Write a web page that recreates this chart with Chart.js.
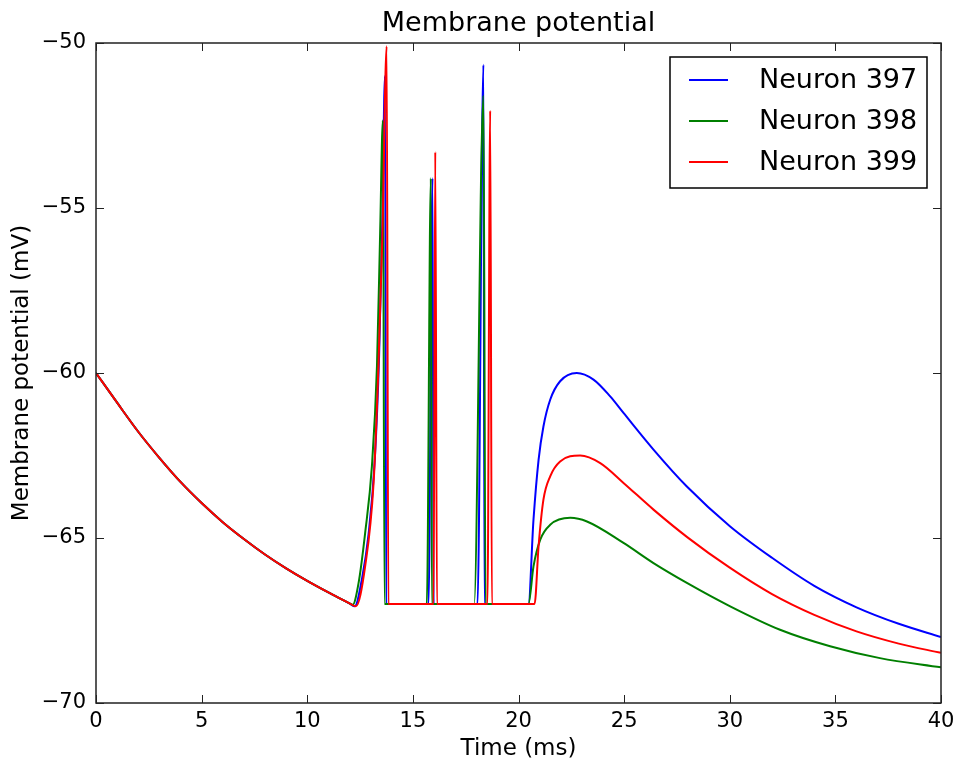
<!DOCTYPE html>
<html>
<head>
<meta charset="utf-8">
<script src="https://cdn.jsdelivr.net/npm/chart.js@4.4.1/dist/chart.umd.min.js"></script>
<style>
  html, body { margin: 0; padding: 0; background: #fff; }
  #wrap { width: 955px; height: 765px; }
</style>
</head>
<body>
<div id="wrap"><canvas id="potentialChart" width="955" height="765"></canvas></div>
<script>
// shared decay from -60 mV before any input arrives (t in ms, V in mV)
const decayTime = [0, 1, 2, 3, 4, 5, 6, 7, 8, 9, 10, 11, 12];
const decayV = [-60, -60.9, -61.78, -62.57, -63.3, -63.94, -64.52, -65.03, -65.5, -65.92, -66.3, -66.65, -66.98];

// Neuron 397 (blue)
const n397Time = [12.25, 12.6, 12.9, 13.2, 13.4, 13.55, 13.68, 13.74, 15.74, 15.93, 15.98, 18.06, 18.34, 18.39, 20.47,
  20.71, 20.95, 21.18, 21.5, 21.97, 22.76, 23.55, 24.34, 24.97, 26.39, 27.97, 30.02, 32, 34, 36, 38, 40];
const n397V = [-67.07, -66.2, -64.9, -62.6, -59.5, -55.5, -51.0, -67.0, -67.0, -54.1, -67.0, -67.0, -50.66, -67.0, -67.0,
  -64.44, -62.63, -61.62, -60.81, -60.25, -60.0, -60.2, -60.71, -61.21, -62.32, -63.44, -64.65, -65.6, -66.45, -67.1, -67.6, -68.0];

// Neuron 398 (green)
const n398Time = [12.15, 12.43, 12.74, 13.06, 13.3, 13.45, 13.58, 13.66, 15.66, 15.85, 15.9, 17.9, 18.34, 18.44, 20.47,
  20.71, 21.03, 21.5, 22.45, 23.24, 24.97, 26.39, 27.97, 30.02, 32.38, 34.75, 37.11, 40];
const n398V = [-67.02, -66.36, -64.85, -62.83, -59.8, -55.76, -52.35, -67.0, -67.0, -54.1, -67.0, -67.0, -51.6, -67.0, -67.0,
  -65.86, -65.05, -64.6, -64.39, -64.5, -65.15, -65.76, -66.36, -67.07, -67.78, -68.28, -68.64, -68.92];

// Neuron 399 (red)
const n399Time = [12.3, 12.74, 13.14, 13.37, 13.56, 13.76, 13.84, 15.98, 16.06, 16.14, 18.53, 18.66, 18.74, 20.76,
  20.95, 21.18, 21.5, 21.97, 22.92, 23.87, 24.97, 26.39, 28, 30, 32, 34, 36, 38, 40];
const n399V = [-67.07, -65.86, -63.33, -59.8, -55.76, -50.1, -67.0, -67.0, -53.3, -67.0, -67.0, -52.05, -67.0, -67.0,
  -65.25, -63.84, -63.13, -62.68, -62.5, -62.73, -63.33, -64.14, -64.98, -65.9, -66.7, -67.33, -67.83, -68.2, -68.48];

const xTicks = [0, 5, 10, 15, 20, 25, 30, 35, 40];
const yTicks = [-70, -65, -60, -55, -50];
const seriesNames = ['Neuron 397', 'Neuron 398', 'Neuron 399'];
const seriesColors = ['#0000ff', '#007f00', '#ff0000'];

const FONT = "'DejaVu Sans', sans-serif";

function toPoints(times, values) {
  const pts = decayTime.map((t, i) => ({ x: t, y: decayV[i] }));
  times.forEach((t, i) => pts.push({ x: t, y: values[i] }));
  return pts;
}

// frame, inward ticks on all four sides, title and the legend box
const framePlugin = {
  id: 'frame',
  afterDraw(chart) {
    const ctx = chart.ctx;
    const area = chart.chartArea;
    const xs = chart.scales.x;
    const ys = chart.scales.y;
    ctx.save();
    ctx.strokeStyle = '#222';
    ctx.lineWidth = 1.5;
    ctx.strokeRect(area.left, area.top, area.right - area.left, area.bottom - area.top);

    ctx.lineWidth = 1;
    ctx.beginPath();
    xTicks.forEach((v) => {
      const px = Math.round(xs.getPixelForValue(v)) + 0.5;
      ctx.moveTo(px, area.bottom);
      ctx.lineTo(px, area.bottom - 8);
      ctx.moveTo(px, area.top);
      ctx.lineTo(px, area.top + 8);
    });
    yTicks.forEach((v) => {
      const py = Math.round(ys.getPixelForValue(v)) + 0.5;
      ctx.moveTo(area.left, py);
      ctx.lineTo(area.left + 8, py);
      ctx.moveTo(area.right, py);
      ctx.lineTo(area.right - 8, py);
    });
    ctx.stroke();

    // title
    ctx.fillStyle = '#000';
    ctx.font = '27px ' + FONT;
    ctx.textAlign = 'center';
    ctx.textBaseline = 'middle';
    ctx.fillText('Membrane potential', (area.left + area.right) / 2, 24);

    // legend
    const box = { left: 670, top: 57, width: 257, height: 131 };
    ctx.fillStyle = '#fff';
    ctx.fillRect(box.left, box.top, box.width, box.height);
    ctx.strokeStyle = '#000';
    ctx.lineWidth = 1.5;
    ctx.strokeRect(box.left, box.top, box.width, box.height);
    ctx.font = '27px ' + FONT;
    ctx.textAlign = 'left';
    seriesNames.forEach((name, i) => {
      const rowY = 80 + i * 41;
      ctx.strokeStyle = seriesColors[i];
      ctx.lineWidth = 2;
      ctx.beginPath();
      ctx.moveTo(689, rowY);
      ctx.lineTo(728, rowY);
      ctx.stroke();
      ctx.fillStyle = '#000';
      ctx.fillText(name, 759, rowY + 1);
    });
    ctx.restore();
  },
};

const datasets = [
  { label: seriesNames[0], data: toPoints(n397Time, n397V), borderColor: seriesColors[0], order: 3 },
  { label: seriesNames[1], data: toPoints(n398Time, n398V), borderColor: seriesColors[1], order: 2 },
  { label: seriesNames[2], data: toPoints(n399Time, n399V), borderColor: seriesColors[2], order: 1 },
].map((d) => ({
  ...d,
  borderWidth: 2,
  pointRadius: 0,
  fill: false,
  cubicInterpolationMode: 'monotone',
}));

new Chart(document.getElementById('potentialChart').getContext('2d'), {
  type: 'line',
  data: { datasets: datasets },
  options: {
    responsive: false,
    animation: false,
    layout: { padding: { top: 43, right: 14, left: 0, bottom: 0 } },
    plugins: {
      legend: { display: false },
      tooltip: { enabled: false },
    },
    scales: {
      x: {
        type: 'linear',
        min: 0,
        max: 40,
        afterBuildTicks: (scale) => { scale.ticks = xTicks.map((v) => ({ value: v })); },
        afterFit: (scale) => {
          scale.height = 62;
          scale.paddingLeft = 0;
          scale.paddingRight = 0;
        },
        grid: { display: false, drawTicks: false },
        border: { display: false },
        ticks: { color: '#000', font: { family: FONT, size: 21 }, padding: 6, maxRotation: 0 },
        title: { display: true, text: 'Time (ms)', color: '#000', font: { family: FONT, size: 23 }, padding: { top: 2, bottom: 2 } },
      },
      y: {
        type: 'linear',
        min: -70,
        max: -50,
        afterBuildTicks: (scale) => { scale.ticks = yTicks.map((v) => ({ value: v })); },
        afterFit: (scale) => { scale.width = 96; },
        grid: { display: false, drawTicks: false },
        border: { display: false },
        ticks: {
          color: '#000',
          font: { family: FONT, size: 21 },
          padding: 10,
          callback: (v) => String(v).replace('-', '\u2212'),
        },
        title: { display: true, text: 'Membrane potential (mV)', color: '#000', font: { family: FONT, size: 23 }, padding: { top: 8, bottom: 0 } },
      },
    },
  },
  plugins: [framePlugin],
});
</script>
</body>
</html>
